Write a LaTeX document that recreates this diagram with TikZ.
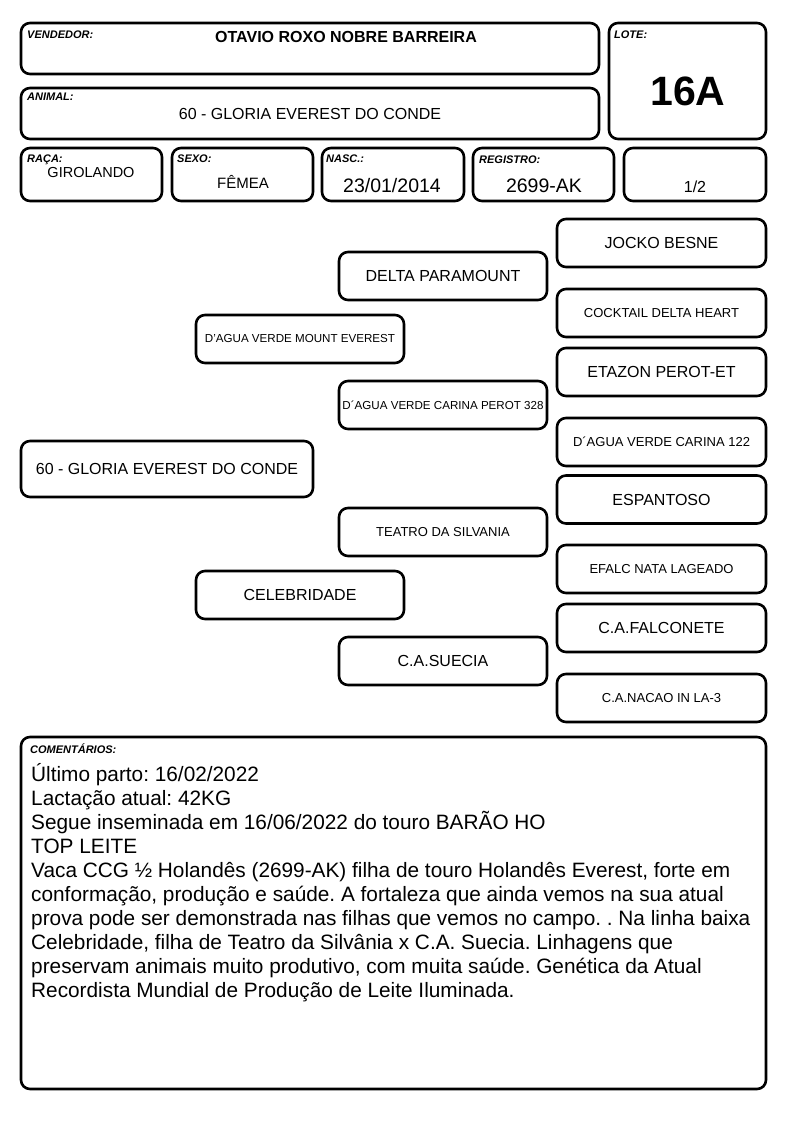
\documentclass[tikz,border=0pt]{standalone}
\usepackage{fontspec}
\setmainfont{Liberation Sans}
\frenchspacing
\newcommand{\tam}[1]{\fontsize{#1}{#1}\selectfont}
\begin{document}
\begin{tikzpicture}[x=1pt,y=-1pt, line join=round, line cap=round,
	caixa/.style={draw, line width=2.6pt, rounded corners=9pt, inner sep=0pt},
	dim/.style 2 args={minimum width=#1, minimum height=#2},
	rotulo/.style={font=\tam{11}\bfseries\itshape, anchor=base west, inner sep=0pt},
	valor/.style={anchor=base, inner sep=0pt},
	grande/.style={font=\tam{16}},
	media/.style={font=\tam{13}},
	pequena/.style={font=\tam{11.6}}]
	\useasboundingbox (0,0) rectangle (794,1123);
	
	% Cabeçalho
	\node[caixa, dim={578}{51}] (vendedor) at (310,48.5) {};
	\node[caixa, dim={578}{51}] (animal) at (310,113.5) {};
	\node[caixa, dim={157}{116}] (lote) at (687.5,81) {};
	\node[caixa, dim={141}{53}] (raca) at (91.5,174.5) {};
	\node[caixa, dim={141}{53}] (sexo) at (242.5,174.5) {};
	\node[caixa, dim={142}{53}] (nasc) at (393,174.5) {};
	\node[caixa, dim={141}{53}] (registro) at (543.5,174.5) {};
	\node[caixa, dim={142}{53}] (ordem) at (695,174.5) {};
	
	\node[rotulo] (rvend) at (27,39) {VENDEDOR:};
	\node[rotulo] (ranim) at (27,101) {ANIMAL:};
	\node[rotulo] (rlote) at (614,39) {LOTE:};
	\node[rotulo] (rraca) at (27,163) {RAÇA:};
	\node[rotulo] (rsexo) at (177,163) {SEXO:};
	\node[rotulo] (rnasc) at (326,163) {NASC.:};
	\node[rotulo] (rreg) at (479,164) {REGISTRO:};
	
	\node[valor, anchor=base west, font=\tam{16}\bfseries] (vvend) at (215,43) {OTAVIO ROXO NOBRE BARREIRA};
	\node[valor, grande] (vanim) at (310,120) {60 - GLORIA EVEREST DO CONDE};
	\node[valor, font=\tam{41}\bfseries] (vlote) at (688,106) {16A};
	\node[valor, font=\tam{14.5}] (vraca) at (91,178) {GIROLANDO};
	\node[valor, font=\tam{15}] (vsexo) at (243,189) {FÊMEA};
	\node[valor, font=\tam{19.5}] (vnasc) at (392,193) {23/01/2014};
	\node[valor, font=\tam{19.5}] (vreg) at (544,193) {2699-AK};
	\node[valor, grande] (vordem) at (695,193) {1/2};
	
	% Genealogia
	\node[caixa, dim={292}{56}, grande] (an) at (167,469) {60 - GLORIA EVEREST DO CONDE};
	
	\node[caixa, dim={208}{48}, pequena] (p) at (300,339) {D'AGUA VERDE MOUNT EVEREST};
	\node[caixa, dim={208}{48}, grande] (m) at (300,595) {CELEBRIDADE};
	
	\node[caixa, dim={208}{48}, grande] (pp) at (443,276) {DELTA PARAMOUNT};
	\node[caixa, dim={208}{48}, pequena] (pm) at (443,405) {D´AGUA VERDE CARINA PEROT 328};
	\node[caixa, dim={208}{48}, media] (mp) at (443,532) {TEATRO DA SILVANIA};
	\node[caixa, dim={208}{48}, grande] (mm) at (443,661) {C.A.SUECIA};
	
	\node[caixa, dim={209}{48}, grande] (ppp) at (661.5,243) {JOCKO BESNE};
	\node[caixa, dim={209}{48}, media] (ppm) at (661.5,313) {COCKTAIL DELTA HEART};
	\node[caixa, dim={209}{48}, grande] (pmp) at (661.5,372) {ETAZON PEROT-ET};
	\node[caixa, dim={209}{48}, media] (pmm) at (661.5,442) {D´AGUA VERDE CARINA 122};
	\node[caixa, dim={209}{48}, grande] (mpp) at (661.5,499.5) {ESPANTOSO};
	\node[caixa, dim={209}{48}, media] (mpm) at (661.5,569) {EFALC NATA LAGEADO};
	\node[caixa, dim={209}{48}, grande] (mmp) at (661.5,628) {C.A.FALCONETE};
	\node[caixa, dim={209}{48}, media] (mmm) at (661.5,698) {C.A.NACAO IN LA-3};
	
	% Comentários
	\node[caixa, dim={745}{352}] (coment) at (393.5,913) {};
	\node[rotulo] (rcom) at (30,753) {COMENTÁRIOS:};
	\node[anchor=north west, inner sep=0pt, align=left, font=\fontsize{20.8}{24}\selectfont] (tcom) at (31,763) {Último parto: 16/02/2022\\
		Lactação atual: 42KG\\
		Segue inseminada em 16/06/2022 do touro BARÃO HO\\
		TOP LEITE\\
		Vaca CCG ½ Holandês (2699-AK) filha de touro Holandês Everest, forte em\\
		conformação, produção e saúde. A fortaleza que ainda vemos na sua atual\\
		prova pode ser demonstrada nas filhas que vemos no campo. . Na linha baixa\\
		Celebridade, filha de Teatro da Silvânia x C.A. Suecia. Linhagens que\\
		preservam animais muito produtivo, com muita saúde. Genética da Atual\\
		Recordista Mundial de Produção de Leite Iluminada.};
\end{tikzpicture}
\end{document}
